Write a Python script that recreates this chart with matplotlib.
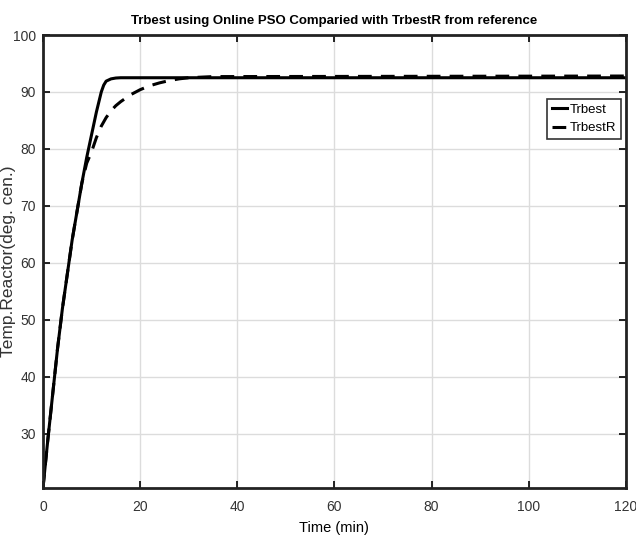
import matplotlib
matplotlib.use("Agg")
import matplotlib.pyplot as plt

# Данные
t_best = [0, 1, 2, 3, 4, 5, 6, 7, 8, 9, 10, 11, 12, 12.5, 13, 14, 15, 16, 20, 120]
trbest = [20.5, 29, 37, 45, 52, 58, 64, 69, 74, 78.5, 82.5, 86.5, 90, 91.2, 91.9, 92.3, 92.45, 92.5, 92.5, 92.5]

t_ref = [0, 1, 2, 3, 4, 5, 6, 7, 8, 9, 10, 11, 12, 13, 14, 15, 16, 18, 20, 22, 24, 26, 28, 30, 35, 120]
trbest_r = [20.5, 29, 37, 45, 52, 58, 64, 69, 74, 77.5, 79.5, 82, 84, 85.5, 86.7, 87.6, 88.3, 89.5,
            90.4, 91.1, 91.6, 92.0, 92.3, 92.5, 92.7, 92.8]

x_ticks = [0, 20, 40, 60, 80, 100, 120]
y_ticks = [30, 40, 50, 60, 70, 80, 90, 100]

plt.rcParams["font.family"] = ["Liberation Sans", "DejaVu Sans"]

fig = plt.figure(figsize=(6.36, 5.47), dpi=100)
ax = fig.add_axes([0.0676, 0.108, 0.9164, 0.828])

ax.plot(t_best, trbest, color="black", linewidth=2.2, label="Trbest")
ax.plot(t_ref, trbest_r, color="black", linewidth=2.2, linestyle=(0, (4.5, 3)), label="TrbestR")

ax.set_xlim(0, 120)
ax.set_ylim(20.5, 100)
ax.set_xticks(x_ticks)
ax.set_yticks(y_ticks)
ax.grid(True, color="#dcdcdc", linewidth=1)
ax.tick_params(direction="in", length=5, width=1.2, labelsize=10, colors="black",
               top=True, right=True, labelcolor="#333333")
ax.tick_params(axis="x", pad=9)
ax.tick_params(axis="y", pad=5)
for s in ax.spines.values():
    s.set_linewidth(2)
    s.set_color("#222222")

ax.set_title("Trbest using Online PSO Comparied with TrbestR from reference",
             fontweight="bold", fontsize=9.5, pad=8)
ax.set_xlabel("Time (min)", fontsize=10.5, labelpad=5)
ax.set_ylabel("Temp.Reactor(deg. cen.)", fontsize=12.5, color="#333333")
ax.yaxis.set_label_coords(-0.046, 0.5)

leg = ax.legend(loc="upper right", bbox_to_anchor=(0.9965, 0.865), fancybox=False,
                edgecolor="black", handlelength=1.2, handletextpad=0.2, borderpad=0.35,
                labelspacing=0.5, borderaxespad=0.2, prop={"size": 9.5})
leg.get_frame().set_linewidth(1.2)

fig.savefig("out.png", dpi=100)
